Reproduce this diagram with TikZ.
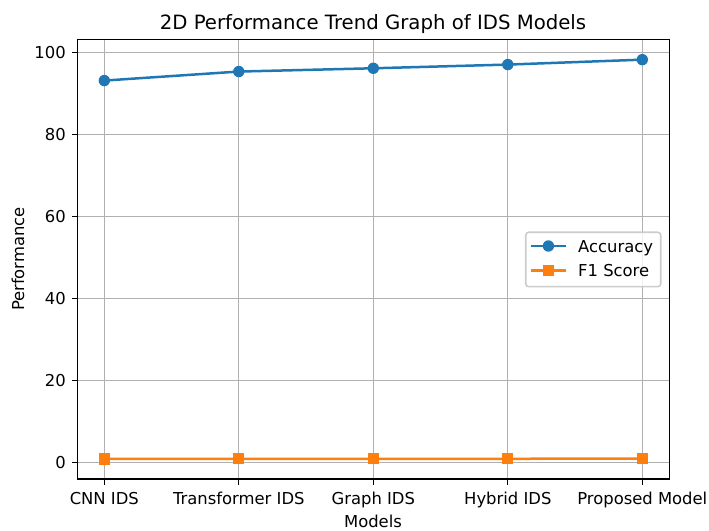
\documentclass[tikz,border=0pt]{standalone}
\usepackage{fontspec}
\setmainfont{DejaVu Sans}

\definecolor{accblue}{HTML}{1F77B4}
\definecolor{foneorange}{HTML}{FF7F0E}
\definecolor{gridgray}{HTML}{B0B0B0}
\definecolor{legendedge}{HTML}{CCCCCC}

\tikzset{
  gridline/.style={gridgray, line width=1.3pt},
  spine/.style={black, line width=1.3pt, line cap=rect},
  tickmark/.style={black, line width=1.3pt},
  ticklabel/.style={font=\fontsize{16.4}{19}\selectfont, inner sep=0pt},
  accline/.style={accblue, line width=2.5pt, line join=round},
  foneline/.style={foneorange, line width=2.5pt, line join=round},
  accmark/.style={circle, fill=accblue, inner sep=0pt, minimum size=11.4pt},
  fonemark/.style={rectangle, fill=foneorange, inner sep=0pt, minimum size=11.2pt},
}

\begin{document}
\begin{tikzpicture}[x=1pt,y=1pt]
\useasboundingbox (0,0) rectangle (709,530);

% data area: x = model index, y = performance
\begin{scope}[shift={(104.3,67.3)}, x=134.5pt, y=4.1pt]
  % grid
  \foreach \i in {0,...,4}
    \draw[gridline] (\i,-3.98) -- (\i,103.3);
  \foreach \v in {0,20,...,100}
    \draw[gridline] (-0.2,\v) -- (4.2,\v);

  % accuracy
  \foreach \i/\v in {0/93.2,1/95.4,2/96.2,3/97.1,4/98.3}
    \coordinate (acc\i) at (\i,\v);
  \draw[accline] (acc0) -- (acc1) -- (acc2) -- (acc3) -- (acc4);
  \foreach \i in {0,...,4}
    \node[accmark] (accdot\i) at (acc\i) {};

  % f1 score
  \foreach \i/\v in {0/0.92,1/0.94,2/0.95,3/0.96,4/0.98}
    \coordinate (fone\i) at (\i,\v);
  \draw[foneline] (fone0) -- (fone1) -- (fone2) -- (fone3) -- (fone4);
  \foreach \i in {0,...,4}
    \node[fonemark] (fonedot\i) at (fone\i) {};

  % axes frame
  \coordinate (frameSW) at (-0.2,-3.98);
  \coordinate (frameNE) at (4.2,103.3);
  \draw[spine] (frameSW) rectangle (frameNE);

  % x ticks and model names
  \foreach \i/\name in {0/CNN IDS,1/Transformer IDS,2/Graph IDS,3/Hybrid IDS,4/Proposed Model}{
    \draw[tickmark] (\i,-3.98) -- ++(0,-5.7pt);
    \node[ticklabel, anchor=north] (xlab\i) at ([yshift=-12.7pt]\i,-3.98) {\name};
  }
  % y ticks
  \foreach \v in {0,20,...,100}{
    \draw[tickmark] (-0.2,\v) -- ++(-5.7pt,0);
    \node[ticklabel, anchor=east] (ylab\v) at ([xshift=-11.4pt]-0.2,\v) {\v};
  }
\end{scope}

% titles
\node[font=\fontsize{19.7}{23}\selectfont, inner sep=0pt, anchor=base] (title) at (373,500.5)
  {2D Performance Trend Graph of IDS Models};
\node[ticklabel] (xtitle) at (373,9) {Models};
\node[ticklabel, rotate=90] (ytitle) at (18,271) {Performance};

% legend
\draw[legendedge, line width=1.6pt, fill=white, fill opacity=0.8, rounded corners=3pt]
  (525.7,243.3) rectangle (660.7,297.7);
\coordinate (legaccL) at (530.7,284);
\coordinate (legaccR) at (566,284);
\draw[accline] (legaccL) -- (legaccR);
\node[accmark] (legaccdot) at (548.4,284) {};
\node[ticklabel, anchor=base west] (legacc) at (578,277.7) {Accuracy};
\coordinate (legfoneL) at (530.7,259.3);
\coordinate (legfoneR) at (566,259.3);
\draw[foneline] (legfoneL) -- (legfoneR);
\node[fonemark] (legfonedot) at (548.4,259.3) {};
\node[ticklabel, anchor=base west] (legfone) at (578,253.3) {F1 Score};
\end{tikzpicture}
\end{document}
